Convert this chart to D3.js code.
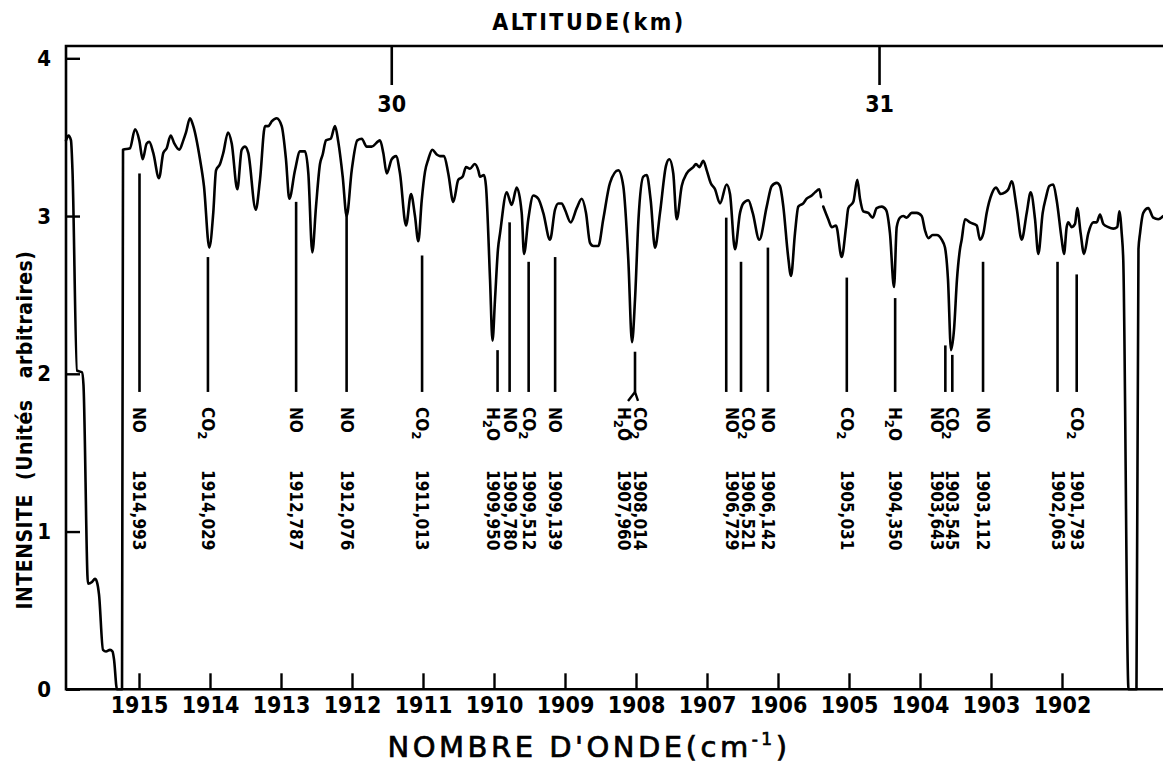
<!DOCTYPE html>
<html>
<head>
<meta charset="utf-8">
<script src="https://cdn.jsdelivr.net/npm/d3@7"></script>
<style>
  html, body { margin: 0; padding: 0; background: #fff; }
  svg { display: block; }
  text { font-family: "DejaVu Sans Condensed", "DejaVu Sans", sans-serif; font-weight: bold; fill: #000; }
  text.wide { font-family: "DejaVu Sans", sans-serif; font-weight: normal; }
</style>
</head>
<body>
<svg id="chart" width="1163" height="765"></svg>
<script>
// Recorded spectrum: wavenumber (cm-1) and intensity (arbitrary units).
// A null intensity marks the short pen lift in the trace.
const spectrumWavenumber = [
  1916.028, 1915.993, 1915.958, 1915.937, 1915.873, 1915.803, 1915.782, 1915.718, 1915.662, 1915.620,
  1915.592, 1915.563, 1915.507, 1915.465, 1915.408, 1915.373, 1915.352, 1915.310, 1915.239, 1915.225,
  1915.127, 1915.056, 1914.996, 1914.948, 1914.892, 1914.855, 1914.799, 1914.718, 1914.658, 1914.610,
  1914.554, 1914.503, 1914.432, 1914.376, 1914.338, 1914.282, 1914.235, 1914.141, 1914.085, 1914.010,
  1913.954, 1913.915, 1913.859, 1913.813, 1913.746, 1913.694, 1913.615, 1913.554, 1913.507, 1913.461,
  1913.356, 1913.296, 1913.225, 1913.179, 1913.131, 1913.061, 1912.990, 1912.930, 1912.883, 1912.803,
  1912.732, 1912.662, 1912.615, 1912.559, 1912.507, 1912.451, 1912.413, 1912.366, 1912.300, 1912.239,
  1912.193, 1912.131, 1912.075, 1912.004, 1911.925, 1911.863, 1911.793, 1911.723, 1911.606, 1911.559,
  1911.511, 1911.441, 1911.380, 1911.324, 1911.239, 1911.169, 1911.113, 1911.066, 1911.018, 1910.972,
  1910.925, 1910.869, 1910.807, 1910.761, 1910.704, 1910.644, 1910.573, 1910.503, 1910.441, 1910.394,
  1910.338, 1910.272, 1910.221, 1910.197, 1910.141, 1910.113, 1910.056, 1910.021, 1909.986, 1909.944,
  1909.915, 1909.821, 1909.751, 1909.680, 1909.610, 1909.577, 1909.517, 1909.446, 1909.376, 1909.306,
  1909.211, 1909.141, 1909.094, 1909.046, 1909.000, 1908.920, 1908.835, 1908.765, 1908.704, 1908.648,
  1908.601, 1908.531, 1908.461, 1908.366, 1908.249, 1908.179, 1908.108, 1908.056, 1908.014, 1907.965,
  1907.897, 1907.849, 1907.793, 1907.732, 1907.662, 1907.577, 1907.531, 1907.475, 1907.427, 1907.356,
  1907.286, 1907.193, 1907.155, 1907.108, 1907.052, 1907.004, 1906.948, 1906.887, 1906.817, 1906.723,
  1906.676, 1906.606, 1906.535, 1906.489, 1906.418, 1906.356, 1906.263, 1906.159, 1906.089, 1906.018,
  1905.972, 1905.925, 1905.859, 1905.817, 1905.761, 1905.714, 1905.644, 1905.596, 1905.525, 1905.479,
  1905.418, 1905.394, 1905.378, 1905.362, 1905.292, 1905.244, 1905.183, 1905.103, 1905.042, 1905.010,
  1904.939, 1904.883, 1904.845, 1904.799, 1904.728, 1904.666, 1904.610, 1904.539, 1904.479, 1904.423,
  1904.366, 1904.328, 1904.282, 1904.235, 1904.187, 1904.117, 1904.046, 1903.976, 1903.930, 1903.883,
  1903.821, 1903.765, 1903.694, 1903.648, 1903.606, 1903.563, 1903.521, 1903.479, 1903.437, 1903.413,
  1903.366, 1903.296, 1903.201, 1903.155, 1903.108, 1903.061, 1902.990, 1902.930, 1902.863, 1902.803,
  1902.756, 1902.708, 1902.638, 1902.568, 1902.497, 1902.441, 1902.380, 1902.334, 1902.272, 1902.225,
  1902.179, 1902.123, 1902.075, 1902.004, 1901.972, 1901.934, 1901.911, 1901.863, 1901.817, 1901.785,
  1901.737, 1901.690, 1901.630, 1901.559, 1901.511, 1901.465, 1901.418, 1901.348, 1901.277, 1901.221,
  1901.193, 1901.159, 1901.137, 1901.063, 1900.951, 1900.923, 1900.901, 1900.855, 1900.785, 1900.714,
  1900.644, 1900.577
];
const spectrumIntensity = [
  3.48, 3.51, 3.48, 3.29, 2.02, 2.01, 1.93, 0.67, 0.68, 0.70,
  0.68, 0.60, 0.25, 0.24, 0.25, 0.24, 0.19, 0.00, 0.00, 3.42,
  3.43, 3.55, 3.48, 3.36, 3.46, 3.47, 3.40, 3.24, 3.40, 3.43,
  3.51, 3.46, 3.42, 3.48, 3.53, 3.62, 3.57, 3.36, 3.19, 2.80,
  3.02, 3.29, 3.33, 3.40, 3.53, 3.46, 3.17, 3.42, 3.44, 3.40,
  3.04, 3.23, 3.57, 3.57, 3.60, 3.62, 3.57, 3.36, 3.11, 3.29,
  3.41, 3.41, 3.27, 2.77, 3.06, 3.33, 3.39, 3.48, 3.49, 3.57,
  3.47, 3.25, 3.00, 3.29, 3.48, 3.49, 3.44, 3.44, 3.48, 3.40,
  3.27, 3.36, 3.38, 3.27, 2.94, 3.14, 3.00, 2.84, 3.10, 3.28,
  3.36, 3.42, 3.39, 3.38, 3.38, 3.27, 3.09, 3.23, 3.25, 3.31,
  3.30, 3.33, 3.29, 3.25, 3.26, 3.19, 2.60, 2.21, 2.47, 2.79,
  2.89, 3.15, 3.07, 3.18, 3.02, 2.76, 2.98, 3.13, 3.11, 3.02,
  2.85, 3.04, 3.08, 3.08, 3.04, 2.96, 3.05, 3.11, 3.02, 2.83,
  2.81, 2.81, 2.98, 3.21, 3.29, 3.19, 2.72, 2.20, 2.47, 2.98,
  3.25, 3.26, 3.10, 2.80, 3.02, 3.32, 3.36, 3.27, 2.98, 3.19,
  3.27, 3.31, 3.33, 3.31, 3.35, 3.29, 3.21, 3.17, 3.08, 3.20,
  3.14, 2.79, 3.02, 3.08, 3.10, 3.02, 2.85, 3.06, 3.19, 3.21,
  3.19, 3.06, 2.75, 2.62, 2.89, 3.06, 3.08, 3.11, 3.13, 3.15,
  3.17, 3.12, null, 3.06, 2.98, 2.93, 2.94, 2.74, 2.93, 3.05,
  3.09, 3.23, 3.11, 3.03, 3.02, 2.99, 3.05, 3.06, 3.04, 2.89,
  2.55, 2.93, 2.99, 3.00, 2.99, 3.02, 3.02, 3.00, 2.91, 2.86,
  2.88, 2.88, 2.85, 2.80, 2.60, 2.15, 2.28, 2.60, 2.79, 2.85,
  2.98, 2.96, 2.94, 2.85, 2.89, 3.02, 3.14, 3.18, 3.14, 3.15,
  3.17, 3.22, 3.05, 2.85, 3.02, 3.15, 2.98, 2.76, 3.02, 3.12,
  3.19, 3.20, 3.10, 2.85, 2.76, 2.93, 2.96, 2.93, 2.95, 3.05,
  2.89, 2.76, 2.89, 2.96, 2.96, 3.01, 2.95, 2.93, 2.92, 2.93,
  3.03, 2.89, 2.72, 0.00, 0.00, 2.79, 2.89, 3.02, 3.05, 2.99,
  2.98, 3.00
];

// Identified absorption lines
const lineWavenumber = [
  1914.993, 1914.029, 1912.787, 1912.076, 1911.013, 1909.950, 1909.780, 1909.512, 1909.139,
  1908.014, 1907.960, 1906.729, 1906.521, 1906.142, 1905.031, 1904.350, 1903.643, 1903.545,
  1903.112, 1902.063, 1901.793
];
const lineMolecule = [
  "NO", "CO2", "NO", "NO", "CO2", "H2O", "NO", "CO2", "NO",
  "CO2", "H2O", "NO", "CO2", "NO", "CO2", "H2O", "NO", "CO2",
  "NO", "", "CO2"
];
// intensity where each marker line starts (null: shares the neighbouring marker)
const lineTop = [
  3.27, 2.74, 3.09, 3.01, 2.75, 2.15, 2.96, 2.71, 2.74,
  2.14, null, 2.99, 2.71, 2.80, 2.61, 2.48, 2.18, 2.12,
  2.71, 2.71, 2.63
];

const xTickValues = [1915, 1914, 1913, 1912, 1911, 1910, 1909, 1908, 1907, 1906, 1905, 1904, 1903, 1902];
const yTickValues = [0, 1, 2, 3, 4];
const altitudeKm = [30, 31];
const altitudeWavenumber = [1911.44, 1904.57];

// ---- layout ----
const svg = d3.select("#chart");
const frame = { left: 66, top: 46, right: 1163, bottom: 689.3 };
const x = d3.scaleLinear().domain([1915, 1902]).range([139, 1062]);
const y = d3.scaleLinear().domain([0, 4]).range([689.3, 58.3]);
const ink = "#000";

// frame (open on the right)
svg.append("path")
  .attr("d", `M${frame.right},${frame.top}H${frame.left}V${frame.bottom}H${frame.right}`)
  .attr("fill", "none").attr("stroke", ink).attr("stroke-width", 2.6);

// bottom axis: wavenumber
const xAxis = svg.append("g")
  .attr("transform", `translate(0,${frame.bottom})`)
  .call(d3.axisBottom(x).tickValues(xTickValues).tickFormat(d3.format("d"))
        .tickSizeInner(-16).tickSizeOuter(0).tickPadding(7));
xAxis.select(".domain").remove();
xAxis.selectAll(".tick line").attr("stroke", ink).attr("stroke-width", 2.4);
xAxis.selectAll(".tick text").attr("font-size", 23).attr("font-family", null);

// left axis: intensity
const yAxis = svg.append("g")
  .attr("transform", `translate(${frame.left},0)`)
  .call(d3.axisLeft(y).tickValues(yTickValues).tickFormat(d3.format("d"))
        .tickSizeInner(-14).tickSizeOuter(0).tickPadding(15));
yAxis.select(".domain").remove();
yAxis.selectAll(".tick line").attr("stroke", ink).attr("stroke-width", 2.4);
yAxis.selectAll(".tick text").attr("font-size", 22).attr("font-family", null);

// top axis: altitude
const alt = svg.append("g");
altitudeKm.forEach((km, i) => {
  const ax = x(altitudeWavenumber[i]);
  alt.append("line").attr("x1", ax).attr("x2", ax)
    .attr("y1", frame.top).attr("y2", frame.top + 39)
    .attr("stroke", ink).attr("stroke-width", 2.6);
  alt.append("text").attr("x", ax).attr("y", 112)
    .attr("text-anchor", "middle").attr("font-size", 23).text(km);
});

// titles
svg.append("text").attr("x", 589).attr("y", 30).attr("text-anchor", "middle")
  .attr("font-size", 23).attr("letter-spacing", 2.5).text("ALTITUDE(km)");

const xt = svg.append("text").attr("class", "wide")
  .attr("x", 589).attr("y", 757).attr("text-anchor", "middle")
  .attr("font-size", 29).attr("letter-spacing", 3.5)
  .style("white-space", "pre").style("stroke", ink).style("stroke-width", 0.7);
xt.append("tspan").text("NOMBRE D'ONDE(cm");
xt.append("tspan").attr("font-size", 17).attr("dy", -12).text("-1");
xt.append("tspan").attr("dy", 12).text(")");

svg.append("text")
  .attr("transform", "translate(25,430) rotate(-90)")
  .attr("text-anchor", "middle").attr("dominant-baseline", "central")
  .attr("font-size", 21).attr("letter-spacing", 0.5).style("white-space", "pre")
  .text("INTENSITE  (Unités   arbitraires)");

// spectrum trace
const spectrum = spectrumWavenumber.map((w, i) => ({ w, v: spectrumIntensity[i] }));
const trace = d3.line()
  .defined(d => d.v !== null)
  .x(d => x(d.w)).y(d => y(d.v))
  .curve(d3.curveMonotoneX);
svg.append("path").datum(spectrum)
  .attr("d", trace)
  .attr("fill", "none").attr("stroke", ink).attr("stroke-width", 2.6)
  .attr("stroke-linejoin", "round").attr("stroke-linecap", "round");

// line markers
const markerBottom = 1.885;
const lines = lineWavenumber.map((w, i) => ({ w, mol: lineMolecule[i], top: lineTop[i] }));
const markers = svg.append("g");
lines.filter(d => d.top !== null).forEach(d => {
  markers.append("line")
    .attr("x1", x(d.w)).attr("x2", x(d.w))
    .attr("y1", y(d.top)).attr("y2", y(markerBottom))
    .attr("stroke", ink).attr("stroke-width", 2.6);
});
// the CO2 / H2O pair near 1908 shares one marker that forks at the foot
{
  const fx = x(lineWavenumber[9]);
  const fy = y(markerBottom);
  markers.append("path")
    .attr("d", `M${fx - 7},${fy + 9}L${fx},${fy}L${fx + 3},${fy + 9}`)
    .attr("fill", "none").attr("stroke", ink).attr("stroke-width", 2.4);
}

// label columns, read top to bottom
const columnShift = { 1909.950: -5, 1908.014: 5, 1907.960: -15, 1906.729: 6, 1906.521: 7, 1903.643: -8 };
const fmt = w => d3.format(".3f")(w).replace(".", ",");
const labels = svg.append("g");
lines.forEach(d => {
  const cx = x(d.w) + (columnShift[d.w] || 0);
  if (d.mol) {
    const t = labels.append("text")
      .attr("transform", `translate(${cx},407) rotate(90)`)
      .attr("dominant-baseline", "central").attr("font-size", 17);
    const m = d.mol.match(/^([A-Z]+)(\d)?([A-Z]*)$/);
    t.append("tspan").text(m[1]);
    if (m[2]) {
      t.append("tspan").attr("font-size", 13).attr("dy", 5).text(m[2]);
      if (m[3]) t.append("tspan").attr("dy", -5).text(m[3]);
    }
  }
  labels.append("text")
    .attr("transform", `translate(${cx},470) rotate(90)`)
    .attr("dominant-baseline", "central").attr("font-size", 17)
    .text(fmt(d.w));
});
</script>
</body>
</html>
